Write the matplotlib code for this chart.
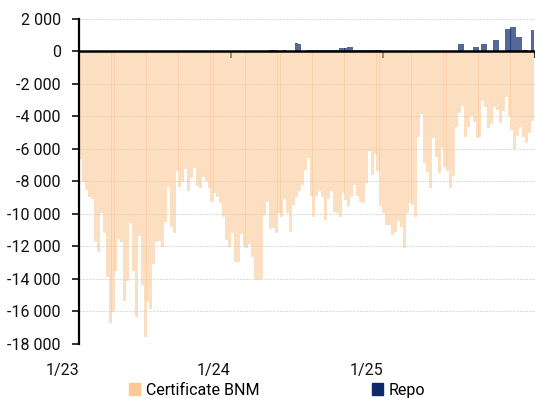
import numpy as np
import pandas as pd
import matplotlib
matplotlib.use("Agg")
import matplotlib.pyplot as plt
import matplotlib.dates as mdates
from matplotlib.patches import Patch
from matplotlib.ticker import FuncFormatter, MultipleLocator, NullFormatter

plt.rcParams['font.family'] = ['Roboto', 'DejaVu Sans']

# weekly liquidity operations, mln
weeks = pd.date_range('2023-01-02', periods=156, freq='7D')

certificate = [
    -6600, -8050, -8540, -8970, -9100, -11730, -12350, -9950, -11180, -13880,
    -16700, -16030, -13510, -11550, -11730, -15360, -14130,
    -10570, -13510, -16340, -11360, -14370, -17570, -15360, -15850, -13080,
    -11730, -11670, -12040, -10500, -8350, -10810, -11180, -7340,
    -8350, -8050, -7250, -8600, -7800, -7190, -8290, -8410, -7740, -7990,
    -8410, -9280, -8720, -8970, -9340, -10200,
    -11610, -12040, -11180, -12960, -12960, -11240, -11980, -12100, -11860,
    -12650, -14070, -14070, -14000, -10070, -9280, -10930, -10850,
    -11180, -9950, -10200, -9100, -9950, -11120, -9460, -8970, -8600, -8230,
    -7310, -6570, -8910, -10200, -8910, -8600,
    -8970, -10380, -9100, -8600, -9890, -9950, -10200, -8720, -9150, -9520,
    -8970, -8230, -8910, -9280, -9300, -8110, -6100, -7600, -6330, -7370, -9500,
    -9950, -10690, -10690, -11300, -11120, -10440, -10810, -12100, -9950,
    -9340, -9460, -10200,
    -5280, -3870, -6880, -7430, -8410, -5340, -6510, -7490, -5930, -7120,
    -7370, -8410, -7680, -4670, -3810, -3380, -5280, -4670, -3990, -4360,
    -5340, -5280, -3070, -3440, -4730, -4480, -3440, -3620, -4420, -3690,
    -2830, -3990, -4850, -6020, -5220, -4670, -5280, -5650, -5040, -4300,
]

repo = [0] * 65 + [
    100, 100, 100, 0, 0, 100, 0, 0, 0, 550, 490, 0, 0, 100, 100, 100, 80, 80,
    100, 100, 100, 100, 100, 100, 200, 200, 200, 300, 250, 120, 120, 120, 120,
    120, 80, 80, 80, 80, 80, 0, 0,
] + [0] * 24 + [
    430, 430, 0, 0, 0, 250, 250, 0, 430, 430, 0, 0, 700, 700, 50, 0,
    1400, 1400, 1500, 1500, 900, 900, 100, 100, 0, 1350,
]

xticks = ['2023-01-01', '2024-01-01', '2025-01-01']
xlabels = ['1/23', '1/24', '1/25']

fig = plt.figure(figsize=(5.35, 3.98), dpi=100)
ax = fig.add_axes([0.1477, 0.1357, 0.8523, 0.8166])

ax.bar(weeks, certificate, width=7.3, align='edge', color='#FBC896', alpha=0.6,
       linewidth=0, zorder=2)
ax.bar(weeks, repo, width=7.3, align='edge', color='#0D2A6B', alpha=0.7,
       linewidth=0, zorder=2)

ax.set_ylim(-18000, 2000)
ax.set_xlim(pd.Timestamp('2023-01-01'), pd.Timestamp('2026-01-01'))
ax.yaxis.set_major_locator(MultipleLocator(2000))
ax.yaxis.set_major_formatter(FuncFormatter(lambda v, p: f"{v:,.0f}".replace(',', ' ')))
ax.grid(axis='y', color='#dddddd', linestyle=(0, (2, 1)), linewidth=0.8, zorder=0)

for s in ['top', 'right', 'bottom']:
    ax.spines[s].set_visible(False)
ax.spines['left'].set_linewidth(1.6)
ax.tick_params(axis='y', length=5, width=1.2, labelsize=11.5, pad=8, colors='#111111')

ax.set_xticks([pd.Timestamp(d) for d in xticks])
ax.set_xticklabels(xlabels, ha='right')
ax.tick_params(axis='x', length=0, labelsize=11.5, pad=14, colors='#111111')

# zero line with the small tick marks
ax.axhline(0, color='black', linewidth=1.8, zorder=3)
sec = ax.secondary_xaxis(0.9)
sec.set_xticks([mdates.date2num(pd.Timestamp(d)) for d in xticks + ['2026-01-01']])
sec.xaxis.set_major_formatter(NullFormatter())
sec.xaxis.set_ticks_position('bottom')
sec.tick_params(axis='x', direction='out', length=5, width=1.2, colors='black',
                labelbottom=False, labeltop=False)
for s in sec.spines.values():
    s.set_visible(False)

handles = [Patch(color='#FBC896', label='Certificate BNM'),
           Patch(color='#0D2A6B', label='Repo')]
fig.legend(handles=handles, loc='center', bbox_to_anchor=(0.518, 0.02), ncol=2,
           frameon=False, fontsize=11.5, handlelength=0.7, handleheight=0.7,
           handletextpad=0.4, columnspacing=7)

fig.savefig('out.png', dpi=100)
